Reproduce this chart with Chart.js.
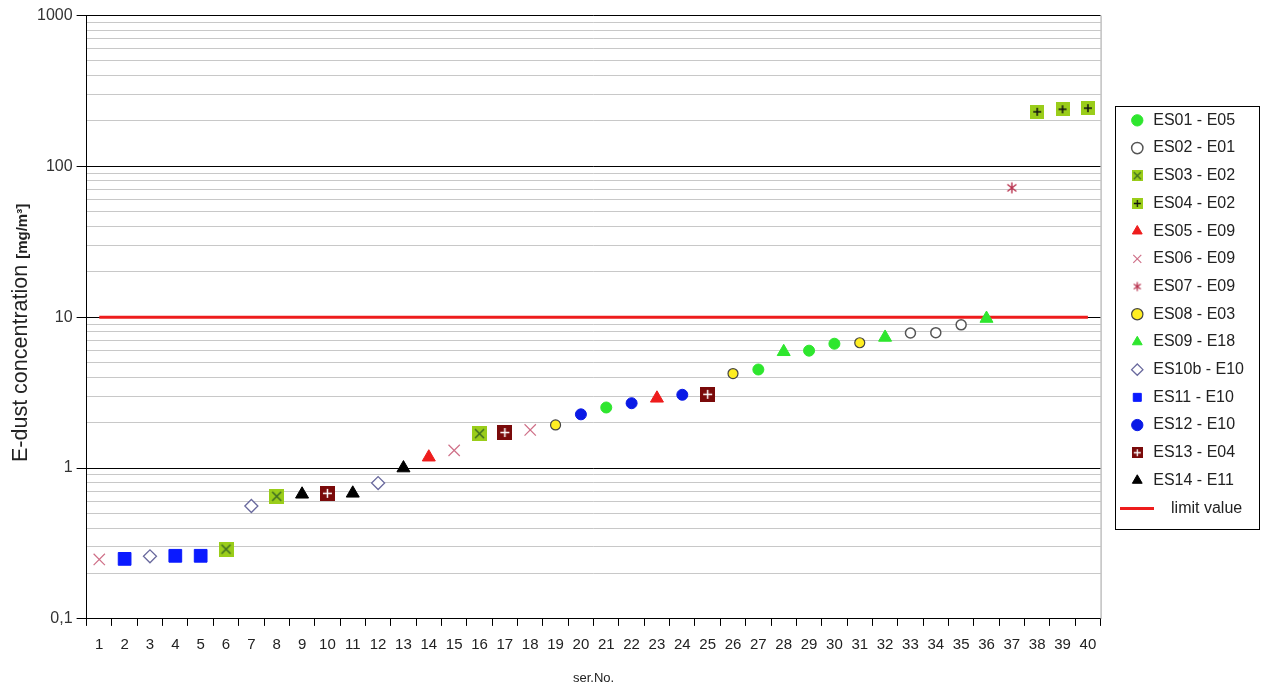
<!DOCTYPE html>
<html>
<head>
<meta charset="utf-8">
<script src="https://cdn.jsdelivr.net/npm/chart.js@4/dist/chart.umd.min.js"></script>
<style>
  html, body { margin: 0; padding: 0; background: #fff; }
  #wrap { width: 1271px; height: 690px; }
</style>
</head>
<body>
<div id="wrap"><canvas id="grafica" width="1271" height="690"></canvas></div>
<script>
const serNo = ['1','2','3','4','5','6','7','8','9','10','11','12','13','14','15','16','17','18','19','20',
               '21','22','23','24','25','26','27','28','29','30','31','32','33','34','35','36','37','38','39','40'];

const es01X  = [21, 27, 29, 30];       const es01Y  = [2.52, 4.5, 6.0, 6.67];
const es02X  = [33, 34, 35];           const es02Y  = [7.85, 7.9, 8.9];
const es03X  = [6, 8, 16];             const es03Y  = [0.29, 0.65, 1.69];
const es04X  = [38, 39, 40];           const es04Y  = [230, 239, 243];
const es05X  = [14, 23];               const es05Y  = [1.18, 2.9];
const es06X  = [1, 15, 18];            const es06Y  = [0.248, 1.31, 1.79];
const es07X  = [37];                   const es07Y  = [72];
const es08X  = [19, 26, 31];           const es08Y  = [1.93, 4.23, 6.77];
const es09X  = [28, 32, 36];           const es09Y  = [5.9, 7.34, 9.8];
const es10bX = [3, 7, 12];             const es10bY = [0.26, 0.56, 0.795];
const es11X  = [2, 4, 5];              const es11Y  = [0.25, 0.262, 0.262];
const es12X  = [20, 22, 24];           const es12Y  = [2.27, 2.69, 3.06];
const es13X  = [10, 17, 25];           const es13Y  = [0.68, 1.72, 3.08];
const es14X  = [9, 11, 13];            const es14Y  = [0.67, 0.68, 1.0];

const limitValue  = 10;
const yTickLabels = [0.1, 1, 10, 100, 1000];

const FUENTE = '"Liberation Sans", Arial, sans-serif';

// marcas cuadradas con cruz / x dentro
function marca(size, fondo, glifo, colorGlifo, grosor) {
  const c = document.createElement('canvas');
  c.width = size; c.height = size;
  const g = c.getContext('2d');
  g.fillStyle = fondo;
  g.fillRect(0, 0, size, size);
  g.strokeStyle = colorGlifo;
  g.lineWidth = grosor;
  const m = Math.round(size * 0.2);
  g.beginPath();
  if (glifo === 'x') {
    g.moveTo(m, m); g.lineTo(size - m, size - m);
    g.moveTo(size - m, m); g.lineTo(m, size - m);
  } else {
    g.moveTo(size / 2, m); g.lineTo(size / 2, size - m);
    g.moveTo(m, size / 2); g.lineTo(size - m, size / 2);
  }
  g.stroke();
  return c;
}

// asterisco de 6 brazos
function asterisco(size, color, grosor) {
  const c = document.createElement('canvas');
  c.width = size; c.height = size;
  const g = c.getContext('2d');
  g.strokeStyle = color;
  g.lineWidth = grosor;
  const m = 1.5, h = size / 2;
  g.beginPath();
  g.moveTo(h, m); g.lineTo(h, size - m);
  g.moveTo(m + 1, m + 2); g.lineTo(size - m - 1, size - m - 2);
  g.moveTo(size - m - 1, m + 2); g.lineTo(m + 1, size - m - 2);
  g.stroke();
  return c;
}

function lineaLeyenda(w, color) {
  const c = document.createElement('canvas');
  c.width = w; c.height = 3;
  const g = c.getContext('2d');
  g.fillStyle = color;
  g.fillRect(0, 0, w, 3);
  return c;
}

const puntos = (xs, ys) => xs.map((x, i) => ({ x: String(x), y: ys[i] }));

function serie(label, xs, ys, estilo) {
  return Object.assign({
    label,
    data: puntos(xs, ys),
    showLine: false,
    borderWidth: 1,
    pointBorderWidth: 1
  }, estilo);
}

const datasets = [
  serie('ES01 - E05', es01X, es01Y, { pointStyle: 'circle', pointRadius: 5.5, backgroundColor: '#2ee62e', borderColor: '#2ee62e' }),
  serie('ES02 - E01', es02X, es02Y, { pointStyle: 'circle', pointRadius: 5, backgroundColor: '#fff', borderColor: '#555', pointBorderWidth: 1.5 }),
  serie('ES03 - E02', es03X, es03Y, { pointStyle: marca(15, '#9acd1a', 'x', '#3d6b22', 1.5), legendMark: marca(11, '#9acd1a', 'x', '#3d6b22', 1.3) }),
  serie('ES04 - E02', es04X, es04Y, { pointStyle: marca(14, '#9acd1a', '+', '#111', 1.5), legendMark: marca(11, '#9acd1a', '+', '#111', 1.3) }),
  serie('ES05 - E09', es05X, es05Y, { pointStyle: 'triangle', pointRadius: 7.5, backgroundColor: '#ee1c1c', borderColor: '#ee1c1c' }),
  serie('ES06 - E09', es06X, es06Y, { pointStyle: 'crossRot', pointRadius: 8, backgroundColor: '#cf7088', borderColor: '#cf7088', pointBorderWidth: 1.2 }),
  serie('ES07 - E09', es07X, es07Y, { pointStyle: asterisco(14, '#b8324e', 1.4), legendMark: asterisco(12, '#b8324e', 1.3) }),
  serie('ES08 - E03', es08X, es08Y, { pointStyle: 'circle', pointRadius: 5, backgroundColor: '#ffee22', borderColor: '#444', pointBorderWidth: 1.2 }),
  serie('ES09 - E18', es09X, es09Y, { pointStyle: 'triangle', pointRadius: 7.5, backgroundColor: '#2ee62e', borderColor: '#2ee62e' }),
  serie('ES10b - E10', es10bX, es10bY, { pointStyle: 'rectRot', pointRadius: 6.5, backgroundColor: '#fff', borderColor: '#6a6a9e', pointBorderWidth: 1.3 }),
  serie('ES11 - E10', es11X, es11Y, { pointStyle: 'rect', pointRadius: 9, backgroundColor: '#0a1aff', borderColor: '#0a1aff' }),
  serie('ES12 - E10', es12X, es12Y, { pointStyle: 'circle', pointRadius: 5.5, backgroundColor: '#0a1ae6', borderColor: '#0a1ae6' }),
  serie('ES13 - E04', es13X, es13Y, { pointStyle: marca(15, '#7a0a0a', '+', '#fff', 1.5), legendMark: marca(11, '#7a0a0a', '+', '#fff', 1.3) }),
  serie('ES14 - E11', es14X, es14Y, { pointStyle: 'triangle', pointRadius: 7.5, backgroundColor: '#000', borderColor: '#000' }),
  {
    label: '    limit value',
    data: serNo.map(() => limitValue),
    borderColor: '#ee1c1c',
    backgroundColor: '#ee1c1c',
    borderWidth: 3,
    pointRadius: 0,
    pointStyle: 'line',
    legendMark: lineaLeyenda(34, '#ee1c1c')
  }
];

function esMayor(v) {
  return yTickLabels.some(t => Math.abs(Math.log10(v) - Math.log10(t)) < 1e-6);
}

const fondoBlanco = {
  id: 'fondoBlanco',
  beforeDraw(chart) {
    const ctx = chart.ctx;
    ctx.save();
    ctx.fillStyle = '#fff';
    ctx.fillRect(0, 0, chart.width, chart.height);
    ctx.restore();
  }
};

// mover la leyenda a su sitio
const moverLeyenda = {
  id: 'moverLeyenda',
  afterLayout(chart) {
    const lg = chart.legend;
    const dx = 17, dy = -36.5;
    lg.left += dx; lg.right += dx;
    lg.top += dy; lg.bottom += dy;
  }
};

const extras = {
  id: 'extras',
  afterDraw(chart) {
    const ctx = chart.ctx;
    const a = chart.chartArea;

    // borde derecho del area
    ctx.save();
    ctx.strokeStyle = '#a0a0a0';
    ctx.lineWidth = 1;
    ctx.beginPath();
    ctx.moveTo(a.right + 0.5, a.top);
    ctx.lineTo(a.right + 0.5, a.bottom);
    ctx.stroke();

    // marco de la leyenda
    const hb = chart.legend.legendHitBoxes;
    if (hb && hb.length) {
      const x0 = Math.min(...hb.map(h => h.left));
      const l = x0 - 14;
      const r = x0 + 130;
      const t = Math.min(...hb.map(h => h.top)) - 6;
      const b = Math.max(...hb.map(h => h.top + h.height)) + 13;
      ctx.strokeStyle = '#000';
      ctx.strokeRect(Math.round(l) + 0.5, Math.round(t) + 0.5, Math.round(r - l), Math.round(b - t));
    }

    // titulo eje y
    const t1 = 'E-dust concentration ';
    const t2 = '[mg/m\u00B3]';
    ctx.translate(27, 462);
    ctx.rotate(-Math.PI / 2);
    ctx.fillStyle = '#222';
    ctx.textBaseline = 'alphabetic';
    ctx.font = '21.5px ' + FUENTE;
    const w1 = ctx.measureText(t1).width;
    ctx.fillText(t1, 0, 0);
    ctx.font = 'bold 15px ' + FUENTE;
    ctx.fillText(t2, w1, 0);
    ctx.restore();
  }
};

Chart.defaults.font.family = FUENTE;
Chart.defaults.color = '#222';

const grafica = new Chart(document.getElementById('grafica'), {
  type: 'line',
  data: { labels: serNo, datasets },
  options: {
    responsive: false,
    animation: false,
    layout: { padding: { left: 33, top: 15.5, right: 34, bottom: 4 } },
    scales: {
      x: {
        type: 'category',
        offset: true,
        grid: { offset: true, drawOnChartArea: false, tickLength: 7, color: '#000' },
        border: { color: '#000' },
        ticks: { autoSkip: false, maxRotation: 0, font: { size: 15 }, color: '#222', padding: 10 },
        title: { display: true, text: 'ser.No.', font: { size: 13 }, color: '#222', padding: { top: 6.5, bottom: 0 } }
      },
      y: {
        type: 'logarithmic',
        min: 0.1,
        max: 1000,
        afterBuildTicks(scale) {
          const ticks = [];
          for (let d = 0; d < yTickLabels.length - 1; d++) {
            for (let k = 1; k < 10; k++) ticks.push({ value: yTickLabels[d] * k });
          }
          ticks.push({ value: yTickLabels[yTickLabels.length - 1] });
          scale.ticks = ticks;
        },
        grid: {
          color: c => (c.tick && esMayor(c.tick.value)) ? '#000' : '#c8c8c8',
          tickColor: c => (c.tick && esMayor(c.tick.value)) ? '#000' : 'rgba(0,0,0,0)',
          tickLength: 10
        },
        border: { color: '#000' },
        ticks: {
          autoSkip: false,
          font: { size: 16 },
          color: '#333',
          padding: 4,
          callback: v => esMayor(v) ? String(v).replace('.', ',') : ''
        }
      }
    },
    plugins: {
      legend: {
        position: 'right',
        labels: {
          usePointStyle: true,
          boxHeight: 8,
          padding: 11.7,
          font: { size: 16 },
          color: '#222',
          generateLabels(chart) {
            const items = Chart.defaults.plugins.legend.labels.generateLabels(chart);
            items.forEach(it => {
              const ds = chart.data.datasets[it.datasetIndex];
              if (ds.legendMark) it.pointStyle = ds.legendMark;
            });
            return items;
          }
        }
      },
      tooltip: { enabled: false }
    }
  },
  plugins: [fondoBlanco, moverLeyenda, extras]
});
</script>
</body>
</html>
